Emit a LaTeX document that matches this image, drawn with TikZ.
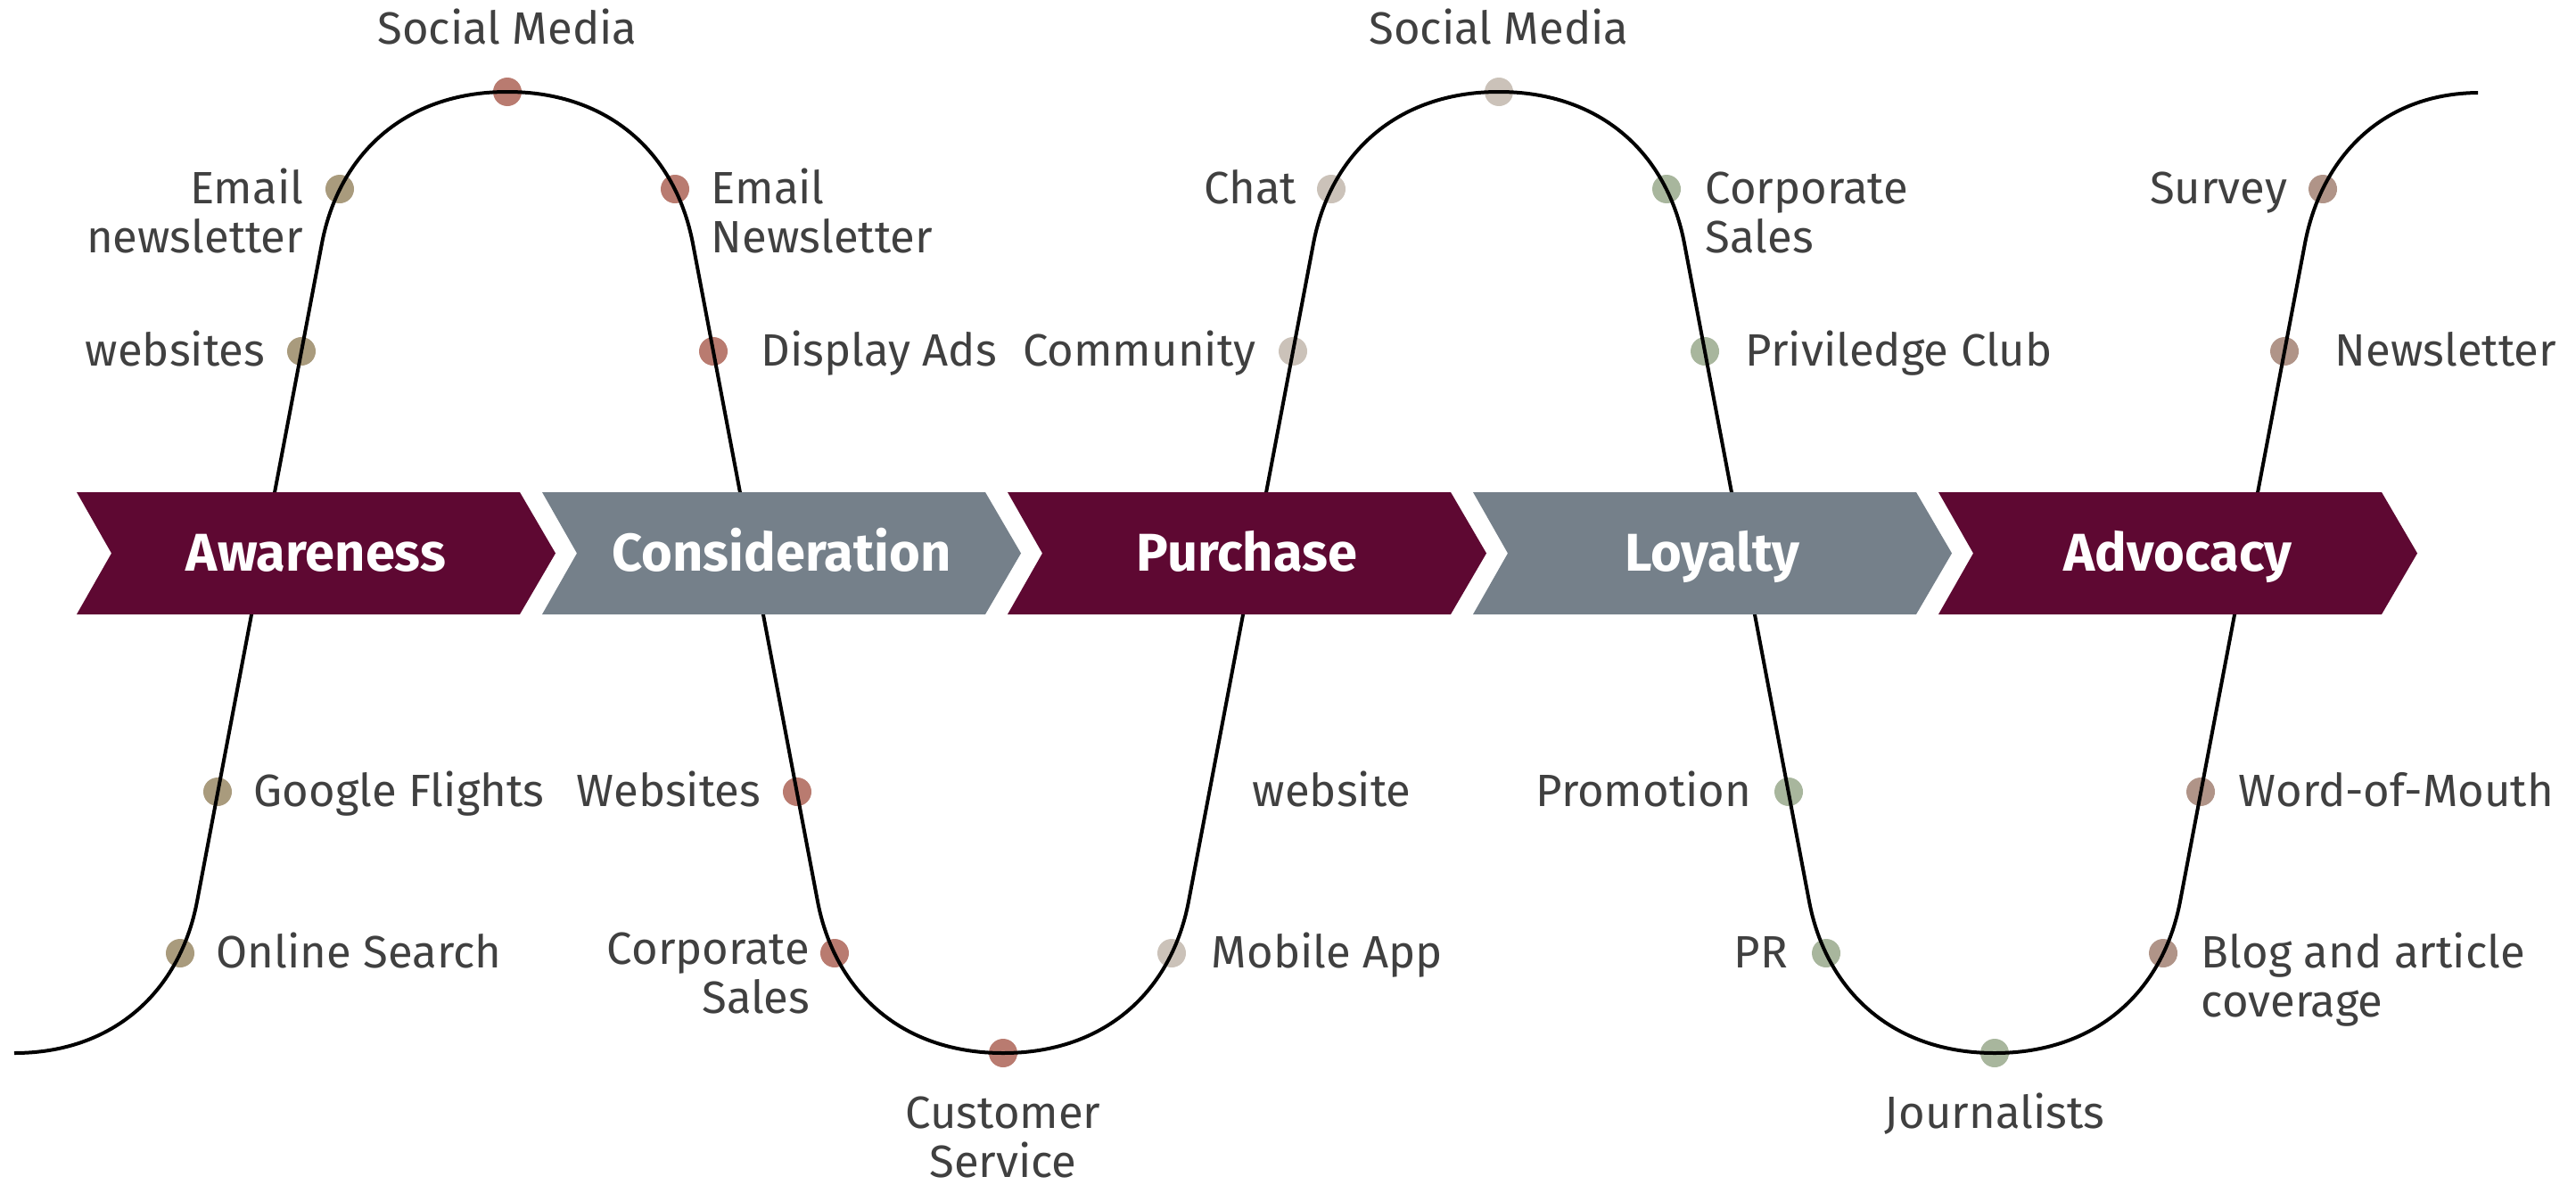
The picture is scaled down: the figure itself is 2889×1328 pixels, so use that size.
\documentclass[tikz,border=0pt]{standalone}
\usepackage{fontspec}
\setmainfont{Fira Sans}
\usetikzlibrary{calc}

\definecolor{maroon}{HTML}{5E0832}
\definecolor{slate}{HTML}{75808A}
\definecolor{ink}{HTML}{404040}
\definecolor{cAware}{HTML}{A99B7D}
\definecolor{cConsid}{HTML}{B97B70}
\definecolor{cPurch}{HTML}{CBC2B9}
\definecolor{cLoyal}{HTML}{A8B69D}
\definecolor{cAdvoc}{HTML}{B09488}

\tikzset{
  dot/.style={circle, inner sep=0pt, minimum size=8pt, fill=#1},
  lbl/.style={text=ink, font=\fontsize{12.7}{13.8}\selectfont, inner sep=0pt},
  stage/.style={text=white, font=\bfseries\fontsize{14.9}{16}\selectfont, inner sep=0pt, anchor=base},
  wave/.style={line width=1pt, black},
}

% two-line labels whose baseline is that of the first line
\newcommand\twoR[2]{\vtop{\halign{\hfil##\cr #1\cr #2\cr}}}
\newcommand\twoL[2]{\vtop{\halign{##\hfil\cr #1\cr #2\cr}}}
\newcommand\twoC[2]{\vtop{\halign{\hfil##\hfil\cr #1\cr #2\cr}}}

\begin{document}
\begin{tikzpicture}[x=0.25pt, y=-0.25pt]
\useasboundingbox[fill=white] (0,0) rectangle (2889,1328);

% touch-point dots (drawn below the journey line)
\node[dot=cAware]  (d-email1)  at (381,212)  {};
\node[dot=cAware]  (d-web1)    at (338,394)  {};
\node[dot=cAware]  (d-gfl)     at (244,888)  {};
\node[dot=cAware]  (d-search)  at (202,1069) {};
\node[dot=cConsid] (d-social1) at (569,103)  {};
\node[dot=cConsid] (d-email2)  at (757,212)  {};
\node[dot=cConsid] (d-display) at (800,394)  {};
\node[dot=cConsid] (d-web2)    at (894,888)  {};
\node[dot=cConsid] (d-corp1)   at (936,1069) {};
\node[dot=cConsid] (d-cust)    at (1125,1181) {};
\node[dot=cPurch]  (d-chat)    at (1493,212) {};
\node[dot=cPurch]  (d-comm)    at (1450,394) {};
\node[dot=cPurch]  (d-social2) at (1681,103) {};
\node[dot=cPurch]  (d-mobile)  at (1314,1069) {};
\node[dot=cLoyal]  (d-corp2)   at (1869,212) {};
\node[dot=cLoyal]  (d-priv)    at (1912,394) {};
\node[dot=cLoyal]  (d-promo)   at (2006,888) {};
\node[dot=cLoyal]  (d-pr)      at (2048,1069) {};
\node[dot=cLoyal]  (d-journ)   at (2237,1181) {};
\node[dot=cAdvoc]  (d-survey)  at (2605,212) {};
\node[dot=cAdvoc]  (d-news)    at (2562,394) {};
\node[dot=cAdvoc]  (d-wom)     at (2468,888) {};
\node[dot=cAdvoc]  (d-blog)    at (2426,1069) {};

% the journey line: rounded crests joined by straight slanted flanks
\draw[wave]
  (16,1181) .. controls (128,1181) and (202,1111) .. (221,1011) -- (361,273)
  .. controls (380,173) and (454,103) .. (569,103)
  .. controls (684,103) and (758,173) .. (777,273) -- (917,1011)
  .. controls (936,1111) and (1010,1181) .. (1125,1181)
  .. controls (1240,1181) and (1314,1111) .. (1333,1011) -- (1473,273)
  .. controls (1492,173) and (1566,103) .. (1681,103)
  .. controls (1796,103) and (1870,173) .. (1889,273) -- (2029,1011)
  .. controls (2048,1111) and (2122,1181) .. (2237,1181)
  .. controls (2352,1181) and (2426,1111) .. (2445,1011) -- (2585,273)
  .. controls (2603,178) and (2670,105) .. (2779,104);

% stage chevrons
\foreach \x/\c/\t/\n in {86/maroon/Awareness/s-aw, 608/slate/Consideration/s-co,
    1130/maroon/Purchase/s-pu, 1652/slate/Loyalty/s-lo, 2174/maroon/Advocacy/s-ad} {
  \fill[\c] (\x,552) -- ++(497,0) -- ++(40,68.5) -- ++(-40,68.5) -- ++(-497,0)
    -- ++(39,-68.5) -- cycle;
  \node[stage] (\n) at (\x+268.5,640) {\t};
}

% touch-point labels
\node[lbl, anchor=base east] (l-email1) at ($(d-email1)+(-40,16)$) {\twoR{Email}{newsletter}};
\node[lbl, anchor=base east] (l-web1)   at ($(d-web1)+(-40,16)$) {websites};
\node[lbl, anchor=base west] (l-gfl)    at ($(d-gfl)+(40,16)$) {Google Flights};
\node[lbl, anchor=base west] (l-search) at ($(d-search)+(40,16)$) {Online Search};

\node[lbl, anchor=base] (l-social1) at (569,50) {Social Media};
\node[lbl, anchor=base west] (l-email2)  at ($(d-email2)+(40,16)$) {\twoL{Email}{Newsletter}};
\node[lbl, anchor=base west] (l-display) at ($(d-display)+(53,16)$) {Display Ads};
\node[lbl, anchor=base east] (l-web2)    at ($(d-web2)+(-40,16)$) {Websites};
\node[lbl, anchor=base east] (l-corp1)   at ($(d-corp1)+(-27,12)$) {\twoR{Corporate}{Sales}};
\node[lbl, anchor=base] (l-cust) at (1125,1265) {\twoC{Customer}{Service}};

\node[lbl, anchor=base east] (l-chat)   at ($(d-chat)+(-38,16)$) {Chat};
\node[lbl, anchor=base east] (l-comm)   at ($(d-comm)+(-41,16)$) {Community};
\node[lbl, anchor=base] (l-social2) at (1681,50) {Social Media};
\node[lbl, anchor=base west] (l-site)   at (1404,904) {website};
\node[lbl, anchor=base west] (l-mobile) at ($(d-mobile)+(44,16)$) {Mobile App};

\node[lbl, anchor=base west] (l-corp2) at ($(d-corp2)+(43,16)$) {\twoL{Corporate}{Sales}};
\node[lbl, anchor=base west] (l-priv)  at ($(d-priv)+(45,16)$) {Priviledge Club};
\node[lbl, anchor=base east] (l-promo) at ($(d-promo)+(-41,16)$) {Promotion};
\node[lbl, anchor=base east] (l-pr)    at ($(d-pr)+(-42,16)$) {PR};
\node[lbl, anchor=base] (l-journ) at (2237,1265) {Journalists};

\node[lbl, anchor=base east] (l-survey) at ($(d-survey)+(-39,16)$) {Survey};
\node[lbl, anchor=base west] (l-news)   at ($(d-news)+(56,16)$) {Newsletter};
\node[lbl, anchor=base west] (l-wom)    at ($(d-wom)+(42,16)$) {Word-of-Mouth};
\node[lbl, anchor=base west] (l-blog)   at ($(d-blog)+(42,16)$) {\twoL{Blog and article}{coverage}};
\end{tikzpicture}
\end{document}
